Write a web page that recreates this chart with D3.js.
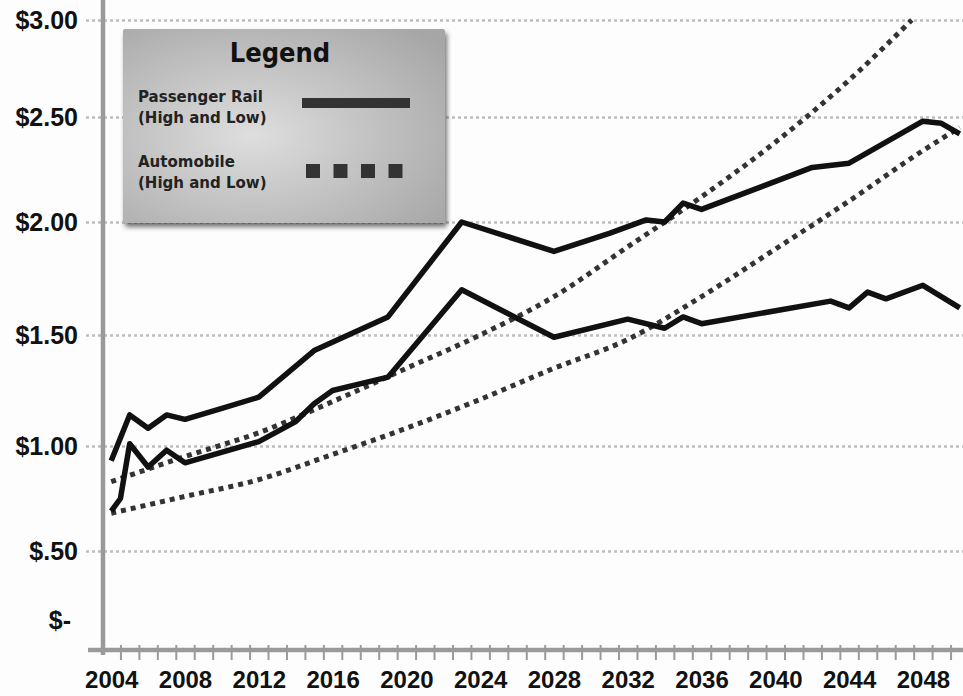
<!DOCTYPE html>
<html>
<head>
<meta charset="utf-8">
<script src="https://cdn.jsdelivr.net/npm/d3@7"></script>
<style>
    body { margin: 0; background: #fdfdfd; }
    svg { display: block; }
</style>
</head>
<body>
<svg id="chart" width="963" height="696"></svg>
<script>
// data
var railHighYears  = [2004, 2005, 2006, 2007, 2008, 2010, 2012, 2015, 2019, 2023, 2028, 2031, 2033, 2034, 2035, 2036, 2042, 2044, 2048, 2049, 2050];
var railHighValues = [0.93, 1.14, 1.08, 1.14, 1.12, 1.17, 1.22, 1.43, 1.58, 2.00, 1.87, 1.95, 2.01, 2.00, 2.09, 2.06, 2.26, 2.28, 2.48, 2.47, 2.42];

var railLowYears  = [2004, 2004.5, 2005, 2006, 2007, 2008, 2012, 2014, 2015, 2016, 2019, 2023, 2028, 2032, 2034, 2035, 2036, 2043, 2044, 2045, 2046, 2048, 2050];
var railLowValues = [0.69, 0.75, 1.01, 0.90, 0.98, 0.92, 1.02, 1.11, 1.19, 1.25, 1.31, 1.70, 1.49, 1.57, 1.53, 1.58, 1.55, 1.65, 1.62, 1.69, 1.66, 1.72, 1.62];

var autoHighYears  = [2004, 2008, 2012, 2016, 2020, 2024, 2028, 2032, 2036, 2040, 2044, 2047.4];
var autoHighValues = [0.83, 0.95, 1.06, 1.20, 1.35, 1.50, 1.67, 1.89, 2.12, 2.38, 2.69, 3.00];

var autoLowYears  = [2004, 2008, 2012, 2016, 2020, 2024, 2028, 2032, 2036, 2040, 2044, 2048, 2050];
var autoLowValues = [0.68, 0.76, 0.84, 0.96, 1.08, 1.21, 1.35, 1.48, 1.67, 1.88, 2.10, 2.34, 2.45];

var yTickValues = [0, 0.5, 1, 1.5, 2, 2.5, 3];
var yTickLabels = ["$- ", "$.50", "$1.00", "$1.50", "$2.00", "$2.50", "$3.00"];
var xLabelYears = [2004, 2008, 2012, 2016, 2020, 2024, 2028, 2032, 2036, 2040, 2044, 2048];

var legendItems = [
    { line1: "Passenger Rail", line2: "(High and Low)", dash: null },
    { line1: "Automobile", line2: "(High and Low)", dash: "14,13.5" }
];

/*============================== scales ==============================*/
var svg = d3.select("#chart"),
    width = 963,
    axisX = 103,
    axisY = 650;

var x = d3.scaleLinear().domain([2003.5, 2050.5]).range([102, 969]);
// the scanned original is not evenly spaced, so the value scale is polylinear
var y = d3.scaleLinear().domain(yTickValues).range([620, 551, 446, 335, 222, 117, 20]);

function pairs(years, values) {
    return years.map(function (d, i) { return [d, values[i]]; });
}

/*============================== grid ==============================*/
var grid = svg.append("g")
    .attr("transform", "translate(86,0)")
    .call(d3.axisLeft(y).tickValues(yTickValues.slice(1)).tickSize(-(width - 86)).tickFormat(""));
grid.select(".domain").remove();
grid.selectAll("line")
    .attr("stroke", "#bdbdbd")
    .attr("stroke-width", 2.5)
    .attr("stroke-dasharray", "3,3");

/*============================== axes ==============================*/
svg.append("line")
    .attr("x1", axisX).attr("x2", axisX)
    .attr("y1", 0).attr("y2", axisY + 5)
    .attr("stroke", "#9a9a9a").attr("stroke-width", 4.5);

var xTicks = svg.append("g")
    .attr("transform", "translate(0," + axisY + ")")
    .call(d3.axisBottom(x).tickValues(d3.range(2004.5, 2051, 1)).tickSize(10).tickFormat(""));
xTicks.select(".domain").remove();
xTicks.selectAll("line").attr("y1", -5).attr("stroke", "#9a9a9a").attr("stroke-width", 2);

svg.append("line")
    .attr("x1", 88).attr("x2", width)
    .attr("y1", axisY).attr("y2", axisY)
    .attr("stroke", "#9a9a9a").attr("stroke-width", 4.5);

var yLabels = svg.append("g")
    .attr("transform", "translate(78,0)")
    .call(d3.axisLeft(y).tickValues(yTickValues).tickSize(0).tickPadding(0)
        .tickFormat(function (d, i) { return yTickLabels[i]; }));
yLabels.select(".domain").remove();
yLabels.selectAll("text")
    .attr("fill", "#111")
    .style("white-space", "pre")
    .style("font-family", "'Liberation Sans', Arial, sans-serif")
    .style("font-weight", "bold")
    .style("font-size", "25px");

var xLabels = svg.append("g")
    .attr("transform", "translate(0," + axisY + ")")
    .call(d3.axisBottom(x).tickValues(xLabelYears).tickSize(0).tickPadding(21).tickFormat(d3.format("d")));
xLabels.select(".domain").remove();
xLabels.selectAll("text")
    .attr("fill", "#111")
    .style("font-family", "'Liberation Sans', Arial, sans-serif")
    .style("font-weight", "bold")
    .style("font-size", "24px");

/*============================== lines ==============================*/
var line = d3.line()
    .x(function (d) { return x(d[0]); })
    .y(function (d) { return y(d[1]); });

var smooth = d3.line()
    .curve(d3.curveMonotoneX)
    .x(function (d) { return x(d[0]); })
    .y(function (d) { return y(d[1]); });

[pairs(autoHighYears, autoHighValues), pairs(autoLowYears, autoLowValues)].forEach(function (s) {
    svg.append("path")
        .attr("d", smooth(s))
        .attr("fill", "none")
        .attr("stroke", "#333")
        .attr("stroke-width", 5)
        .attr("stroke-dasharray", "5,5");
});

[pairs(railHighYears, railHighValues), pairs(railLowYears, railLowValues)].forEach(function (s) {
    svg.append("path")
        .attr("d", line(s))
        .attr("fill", "none")
        .attr("stroke", "#111")
        .attr("stroke-width", 5.5)
        .attr("stroke-linejoin", "round");
});

/*============================== legend ==============================*/
var defs = svg.append("defs");
var grad = defs.append("radialGradient")
    .attr("id", "legendFill")
    .attr("cx", "40%").attr("cy", "55%").attr("r", "75%");
grad.append("stop").attr("offset", "0%").attr("stop-color", "#dedede");
grad.append("stop").attr("offset", "100%").attr("stop-color", "#a6a6a6");

var shadow = defs.append("filter")
    .attr("id", "legendShadow")
    .attr("x", "-10%").attr("y", "-10%").attr("width", "125%").attr("height", "130%");
shadow.append("feDropShadow")
    .attr("dx", 2).attr("dy", 4).attr("stdDeviation", 2.5)
    .attr("flood-color", "#000").attr("flood-opacity", 0.55);

var legend = svg.append("g").attr("transform", "translate(123,29)");

legend.append("rect")
    .attr("width", 322).attr("height", 194)
    .attr("rx", 2)
    .attr("fill", "url(#legendFill)")
    .attr("filter", "url(#legendShadow)");

legend.append("text")
    .attr("x", 157).attr("y", 33)
    .attr("text-anchor", "middle")
    .attr("fill", "#111")
    .style("font-family", "'DejaVu Sans Condensed', 'DejaVu Sans', sans-serif")
    .style("font-weight", "bold")
    .style("font-size", "27px")
    .text("Legend");

var item = legend.selectAll(".item")
    .data(legendItems)
    .enter().append("g")
    .attr("class", "item")
    .attr("transform", function (d, i) { return "translate(0," + (i * 65) + ")"; });

item.append("text")
    .attr("x", 15).attr("y", 73)
    .attr("fill", "#222")
    .style("font-family", "'DejaVu Sans', sans-serif")
    .style("font-weight", "bold")
    .style("font-size", "15px")
    .text(function (d) { return d.line1; });

item.append("text")
    .attr("x", 15).attr("y", 94)
    .attr("fill", "#222")
    .style("font-family", "'DejaVu Sans', sans-serif")
    .style("font-weight", "bold")
    .style("font-size", "15px")
    .text(function (d) { return d.line2; });

item.append("line")
    .attr("x1", function (d) { return d.dash ? 183 : 179; })
    .attr("x2", 287)
    .attr("y1", function (d) { return d.dash ? 77 : 74; })
    .attr("y2", function (d) { return d.dash ? 77 : 74; })
    .attr("stroke", "#333")
    .attr("stroke-width", function (d) { return d.dash ? 14 : 10; })
    .attr("stroke-dasharray", function (d) { return d.dash; });
</script>
</body>
</html>
